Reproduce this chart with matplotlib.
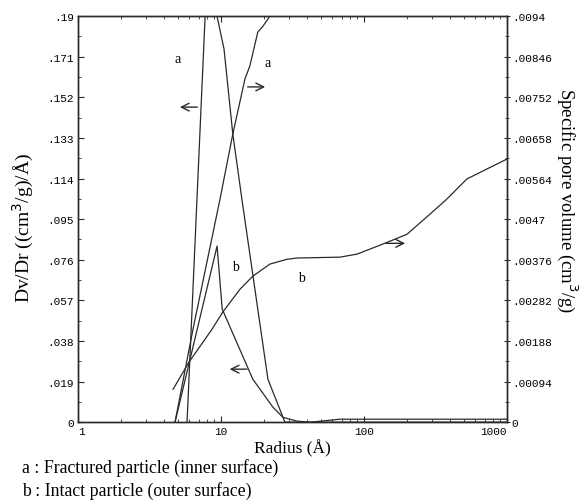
import numpy as np
import matplotlib
matplotlib.use('Agg')
import matplotlib.pyplot as plt
from matplotlib.ticker import FixedLocator, NullFormatter, LogLocator

# --- data ----------------------------------------------------------------
# a : fractured particle, Dv/Dr (left axis)
a_dvdr_r = [5.79, 8.4, 9.38, 10.5, 12.1, 14.0, 21.3, 28.0, 40.0, 1000.0]
a_dvdr_v = [0.0, 0.243, 0.190, 0.1746, 0.1348, 0.1044, 0.0201, 0.0, 0.0, 0.0]

# b : intact particle, Dv/Dr (left axis)
b_dvdr_r = [4.77, 9.39, 10.2, 16.7, 23.1, 27.1, 34.0, 42.0, 68.0, 1000.0]
b_dvdr_v = [0.0, 0.0824, 0.0529, 0.0201, 0.0070, 0.0023, 0.0005, 0.0, 0.0014, 0.0014]

# a : fractured particle, cumulative pore volume (right axis)
a_cum_r = [4.77, 6.37, 9.84, 12.1, 14.7, 15.9, 18.1, 19.7, 22.0, 30.0, 1000.0]
a_cum_v = [0.0, 0.00215, 0.00516, 0.00667, 0.00794, 0.00824, 0.00903,
           0.00917, 0.0094, 0.0100, 0.0110]

# b : intact particle, cumulative pore volume (right axis)
b_cum_r = [4.62, 5.97, 8.65, 10.3, 13.6, 16.7, 22.0, 28.9, 34.0, 67.9,
           89.4, 135, 200, 275, 379, 525, 1000]
b_cum_v = [0.00076, 0.00139, 0.00215, 0.00255, 0.00308, 0.00338, 0.00366,
           0.00377, 0.00380, 0.00382, 0.00389, 0.00412, 0.00435, 0.00475,
           0.00516, 0.00563, 0.00609]

left_ticks  = [0, 0.019, 0.038, 0.057, 0.076, 0.095, 0.114, 0.133, 0.152, 0.171, 0.19]
left_labels = ['0', '.019', '.038', '.057', '.076', '.095', '.114', '.133', '.152', '.171', '.19']
right_ticks  = [0, 0.00094, 0.00188, 0.00282, 0.00376, 0.0047, 0.00564,
                0.00658, 0.00752, 0.00846, 0.0094]
right_labels = ['0', '.00094', '.00188', '.00282', '.00376', '.0047', '.00564',
                '.00658', '.00752', '.00846', '.0094']
x_ticks  = [1, 10, 100, 1000]
x_labels = ['1', '10', '100', '1000']

MONO  = 'Liberation Mono'
SERIF = 'Liberation Serif'
LC = '#2a2a2a'
LW = 0.9

fig = plt.figure(figsize=(5.8, 5.02), dpi=100)
ax = fig.add_axes([0.1345, 0.157, 0.874 - 0.1345, 0.966 - 0.157])
ax2 = ax.twinx()

ax.plot(a_dvdr_r, a_dvdr_v, color=LC, lw=LW)
ax.plot(b_dvdr_r, b_dvdr_v, color=LC, lw=LW)
ax2.plot(a_cum_r, a_cum_v, color=LC, lw=LW)
ax2.plot(b_cum_r, b_cum_v, color=LC, lw=LW)

ax.set_xscale('log')
ax.set_xlim(1, 1000)
ax.set_ylim(0, 0.19)
ax2.set_ylim(0, 0.0094)

# ticks
ax.yaxis.set_major_locator(FixedLocator(left_ticks))
ax.set_yticklabels(left_labels, fontfamily=MONO, fontsize=8)
ax.yaxis.set_minor_locator(FixedLocator(list(np.arange(0.0095, 0.19, 0.019))))
ax2.yaxis.set_major_locator(FixedLocator(right_ticks))
ax2.set_yticklabels(right_labels, fontfamily=MONO, fontsize=8)
ax2.yaxis.set_minor_locator(FixedLocator(list(np.arange(0.00047, 0.0094, 0.00094))))
ax.xaxis.set_major_locator(FixedLocator(x_ticks))
xl = ax.set_xticklabels(x_labels, fontfamily=MONO, fontsize=8)
xl[0].set_ha('left')
xl[-1].set_ha('right')
ax.xaxis.set_minor_locator(LogLocator(base=10, subs=np.arange(2, 10)))
ax.xaxis.set_minor_formatter(NullFormatter())

ax.tick_params(axis='both', which='both', direction='in', top=True, color=LC)
ax.tick_params(which='major', length=4, width=0.8, pad=3)
ax.tick_params(which='minor', length=2.5, width=0.6)
ax2.tick_params(axis='y', which='both', direction='inout', color=LC, pad=1)
ax2.tick_params(which='major', length=5, width=0.8)
ax2.tick_params(which='minor', length=3, width=0.6)
for a in (ax, ax2):
    for s in a.spines.values():
        s.set_linewidth(1.0)
        s.set_color(LC)

# axis labels
ax.set_xlabel('Radius (Å)', fontfamily=SERIF, fontsize=12.5, labelpad=2)
ax.set_ylabel('Dv/Dr ((cm$^3$/g)/Å)', fontfamily=SERIF, fontsize=14, va='center')
ax.yaxis.set_label_coords(-0.128, 0.48)
ax2.set_ylabel('Specific pore volume (cm$^3$/g)', fontfamily=SERIF, fontsize=13.5,
               rotation=-90, va='center')
ax2.yaxis.set_label_coords(1.14, 0.549)

# curve letters
for tx, ty, s in [(5.0, 0.170, 'a'), (21.3, 0.1685, 'a'),
                  (12.7, 0.073, 'b'), (36.8, 0.0679, 'b')]:
    ax.text(tx, ty, s, fontfamily=SERIF, fontsize=10, ha='center', va='center')

# arrows pointing to the axis each curve belongs to
arw = dict(arrowstyle='->', color=LC, lw=1.0, mutation_scale=14)
ax.annotate('', xy=(4.93, 0.1474), xytext=(7.14, 0.1474), arrowprops=arw)
ax.annotate('', xy=(11.0, 0.0248), xytext=(15.9, 0.0248), arrowprops=arw)
ax2.annotate('', xy=(21.3, 0.00776), xytext=(14.7, 0.00776), arrowprops=arw)
ax2.annotate('', xy=(203, 0.00414), xytext=(136, 0.00414), arrowprops=arw)

# caption
fig.text(0.038, 1 - 468 / 502, 'a : Fractured particle (inner surface)',
         fontfamily=SERIF, fontsize=12.75, va='center')
fig.text(0.038, 1 - 491 / 502, 'b : Intact particle (outer surface)',
         fontfamily=SERIF, fontsize=12.75, va='center')

fig.savefig('out.png', dpi=100)
plt.close(fig)
